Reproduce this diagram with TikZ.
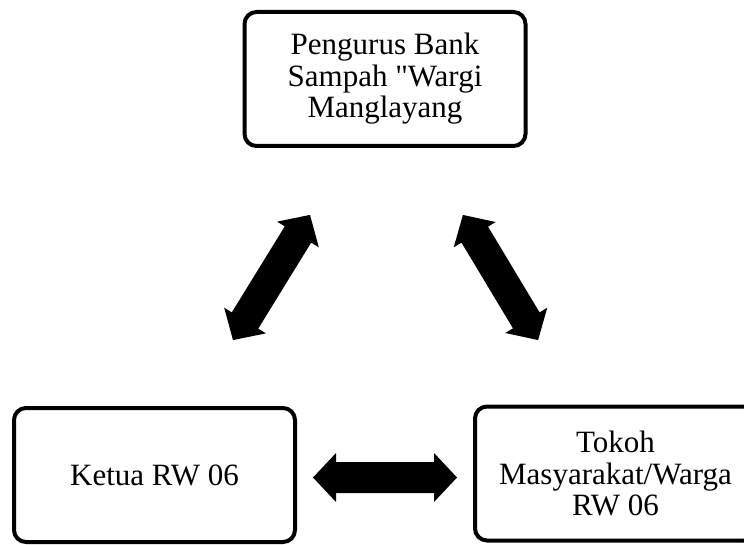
\documentclass[tikz,border=0pt]{standalone}
\usepackage{fontspec}
\setmainfont{Liberation Serif}[Ligatures=TeXOff]
\begin{document}
\begin{tikzpicture}[x=1pt,y=-1pt,
  box/.style={draw, line width=4pt, rounded corners=12pt, minimum width=281pt, minimum height=134pt, align=center, inner sep=0pt, font=\fontsize{31}{31.5}\selectfont},
  pics/blockarrow/.style={code={
    \fill[black] (-#1/2,0) -- (-#1/2+23,24.5) -- (-#1/2+23,15.5) -- (#1/2-23,15.5) -- (#1/2-23,24.5) -- (#1/2,0)
      -- (#1/2-23,-24.5) -- (#1/2-23,-15.5) -- (-#1/2+23,-15.5) -- (-#1/2+23,-24.5) -- cycle;
  }}]
\useasboundingbox (0,0) rectangle (744,545);
\node[box] (top) at (385,79) {Pengurus Bank\\Sampah "Wargi\\Manglayang};
\node[box] (left) at (154.5,475) {Ketua RW 06};
\node[box] (right) at (615.5,473.5) {Tokoh\\Masyarakat/Warga\\RW 06};
\coordinate (m1) at (271.5,277.5);
\coordinate (m2) at (500.5,277.5);
\coordinate (m3) at (385,477.5);
\pic[rotate=58.4] at (m1) {blockarrow=147};
\pic[rotate=-59] at (m2) {blockarrow=146};
\pic at (m3) {blockarrow=144};
\end{tikzpicture}
\end{document}
